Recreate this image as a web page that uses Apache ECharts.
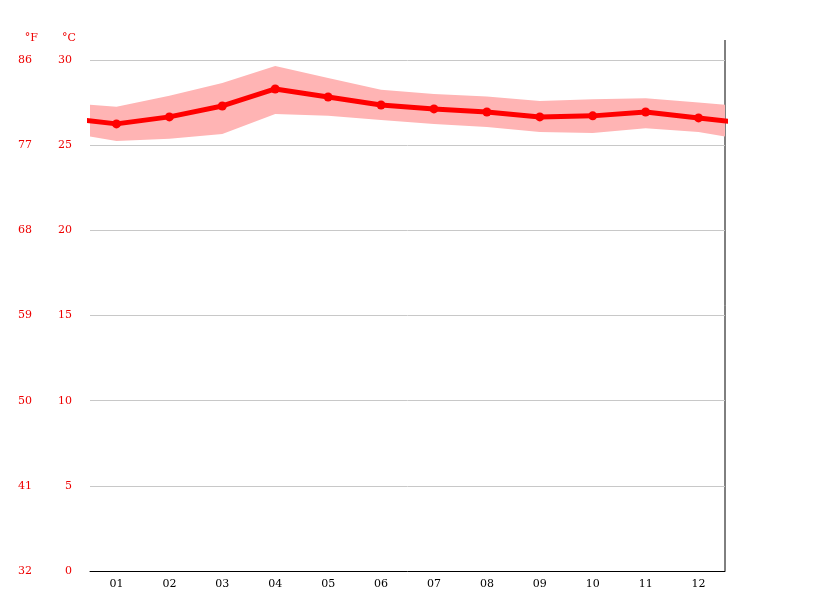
<!DOCTYPE html>
<html>
<head>
<meta charset="utf-8">
<script src="https://cdn.jsdelivr.net/npm/echarts@6/dist/echarts.min.js"></script>
<style>html,body{margin:0;padding:0;background:#fff}#chart{width:815px;height:611px}</style>
</head>
<body>
<div id="chart"></div>
<script>
var months = ['01', '02', '03', '04', '05', '06', '07', '08', '09', '10', '11', '12'];
var avgTemp = [26.25, 26.66, 27.3, 28.3, 27.83, 27.36, 27.13, 26.95, 26.66, 26.72, 26.95, 26.6];
var maxTemp = [27.25, 27.9, 28.65, 29.65, 28.95, 28.25, 28.0, 27.85, 27.6, 27.7, 27.75, 27.5];
var minTemp = [25.25, 25.37, 25.66, 26.83, 26.72, 26.48, 26.25, 26.07, 25.78, 25.72, 26.0, 25.78];

// wrap Dec before Jan and Jan after Dec so lines run to the edges
function wrap(arr) {
    var out = [[0, arr[11]]];
    arr.forEach(function(v, i) { out.push([i + 1, v]); });
    out.push([13, arr[0]]);
    return out;
}
var lowPts = wrap(minTemp), highPts = wrap(maxTemp);
var bandData = lowPts.map(function(p, i) { return [p[0], p[1], highPts[i][1]]; });

var font = 'DejaVu Serif';
var chart = echarts.init(document.getElementById('chart'));
chart.setOption({
    animation: false,
    grid: { left: 90, right: 90, top: 60, bottom: 40 },
    xAxis: [
        {
            type: 'category',
            data: months,
            boundaryGap: true,
            axisLine: { lineStyle: { color: '#000' } },
            axisTick: { lineStyle: { color: '#000' } },
            axisLabel: { color: '#000', fontFamily: font, fontSize: 11 }
        },
        { type: 'value', min: 0.5, max: 12.5, show: false }
    ],
    yAxis: [
        {
            type: 'value', min: 0, max: 30, interval: 5,
            name: '°C', nameGap: 16,
            nameTextStyle: { color: '#e00', fontFamily: font, fontSize: 11, align: 'right', padding: [0, 14, 0, 0] },
            axisLine: { show: false }, axisTick: { show: false },
            axisLabel: { color: '#e00', fontFamily: font, fontSize: 11, margin: 18 },
            splitLine: { lineStyle: { color: '#c8c8c8' } }
        },
        {
            type: 'value', min: 0, max: 30, interval: 5, position: 'left', offset: 40,
            name: '°F', nameGap: 16,
            nameTextStyle: { color: '#e00', fontFamily: font, fontSize: 11, align: 'right', padding: [0, 12, 0, 0] },
            axisLine: { show: false }, axisTick: { show: false }, splitLine: { show: false },
            axisLabel: { color: '#e00', fontFamily: font, fontSize: 11, margin: 18,
                formatter: function(v) { return Math.round(v * 9 / 5 + 32); } }
        }
    ],
    graphic: [{
        type: 'line', shape: { x1: 725, y1: 40, x2: 725, y2: 571 },
        style: { stroke: '#000', lineWidth: 1 }
    }],
    series: [
        {
            type: 'custom', xAxisIndex: 1, data: bandData, clip: true,
            renderItem: function(params, api) {
                if (params.dataIndex !== 0) return;
                var top = bandData.map(function(d) { return api.coord([d[0], d[2]]); });
                var bottom = bandData.map(function(d) { return api.coord([d[0], d[1]]); }).reverse();
                return {
                    type: 'polygon',
                    shape: { points: top.concat(bottom) },
                    style: { fill: '#ffb4b4' }
                };
            }
        },
        {
            type: 'line', xAxisIndex: 1, data: wrap(avgTemp), clip: true,
            symbol: 'circle', symbolSize: 9,
            itemStyle: { color: '#ff0000' },
            lineStyle: { color: '#ff0000', width: 5 }
        }
    ]
});
</script>
</body>
</html>
